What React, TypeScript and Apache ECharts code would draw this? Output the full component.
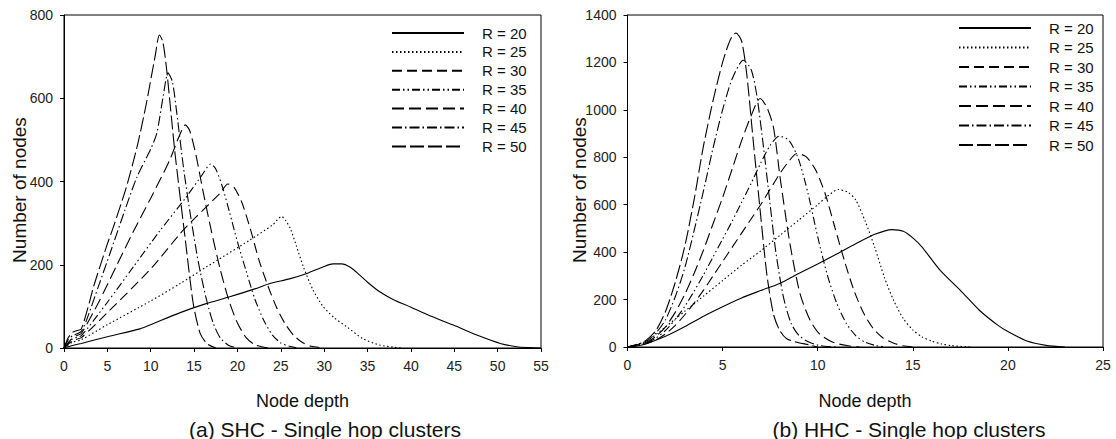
import React, { useEffect, useRef } from "react";
import * as echarts from "echarts";

// ---------- data: [node depth, number of nodes] ----------
const seriesNames = ["R = 20", "R = 25", "R = 30", "R = 35", "R = 40", "R = 45", "R = 50"];

// (a) SHC
const shcR20 = [[0,0],[1,6],[2,11],[5,27],[8.76,46],[10,56],[13.4,85],[16.3,106],[19.1,123],[22,142],[23.75,155],[26,166],[28,179],[30,196],[31,202],[32,202],[33,194],[34,177],[35,158],[36.4,135],[38,116],[40,98],[42,79],[44.9,55],[47.6,31],[50.3,11],[52.2,3],[53.5,1],[55,0]];
const shcR25 = [[0,0],[1,14],[2,20],[5,56],[10,113],[13.4,155],[16.45,195],[21.4,259],[24,295],[25.1,316],[25.6,305],[26.1,287],[26.8,245],[27.6,195],[28.7,140],[29.9,99],[31.2,72],[32.6,51],[34.5,22],[36.4,7],[38,2],[39,0]];
const shcR30 = [[0,0],[1,18],[2,25],[5,85],[10,190],[13.4,275],[15,310],[18,372],[18.9,394],[19.6,386],[20.5,350],[21.5,285],[22.5,210],[23.5,150],[24.5,98],[25.5,58],[26.5,30],[27.5,13],[28.5,4],[30,0]];
const shcR35 = [[0,0],[1,22],[2,30],[5,110],[8,195],[11,280],[14,360],[16,418],[16.9,442],[17.5,430],[18.3,385],[19.1,325],[20,255],[21,185],[22,118],[23,68],[24,32],[25,12],[26,4],[27,0]];
const shcR40 = [[0,0],[1,25],[1.5,30],[2,35],[4,110],[6,195],[8,280],[10,360],[12.2,452],[13.3,510],[14,536],[14.5,522],[15.2,465],[16,380],[17,280],[18,190],[19,115],[20,60],[21,25],[22,8],[23.5,0]];
const shcR45 = [[0,0],[0.5,20],[1,30],[1.5,34],[2,40],[2.6,67],[4,150],[5.3,227],[7,330],[8.4,410],[10,478],[10.7,516],[11.4,600],[12,661],[12.5,640],[13,565],[13.8,430],[14.5,330],[15.5,205],[16.5,110],[17.2,60],[18,25],[19,6],[20,0]];
const shcR50 = [[0,0],[0.5,25],[1,38],[1.5,42],[2,46],[3,115],[3.4,147],[5,250],[5.7,291],[7.2,387],[8.5,490],[9.5,588],[10.5,700],[11,752],[11.4,735],[11.84,668],[12.8,468],[13.95,267],[14.9,107],[15.7,35],[16.5,10],[17.5,0]];

// (b) HHC
const hhcR20 = [[0,0],[0.5,4],[1,14],[2,45],[3,85],[4,130],[5,170],[6,207],[7,238],[8,268],[9,310],[10,350],[11,392],[12,435],[13,475],[13.9,495],[14.5,488],[15,460],[15.5,420],[16.43,324],[17.5,239],[18.5,155],[19.5,90],[20,65],[21,25],[22,7],[23,0]];
const hhcR25 = [[0,0],[1,25],[2,85],[3,150],[4,215],[5,280],[6,345],[7,405],[8,470],[9,535],[10,600],[10.5,635],[11.1,664],[11.6,652],[12,620],[12.5,530],[13,420],[13.5,295],[14,195],[14.5,120],[15,72],[15.5,42],[16,25],[16.5,13],[17,6],[18,0]];
const hhcR30 = [[0,0],[1,15],[1.5,30],[2,55],[2.5,90],[3,135],[3.5,185],[4,240],[4.5,300],[5,360],[5.5,420],[6,480],[6.5,540],[7,600],[7.5,665],[8,730],[8.5,785],[8.9,816],[9.4,802],[9.9,745],[10.4,645],[10.9,505],[11.4,365],[11.9,240],[12.4,145],[12.9,80],[13.4,40],[14,16],[14.5,5],[15,0]];
const hhcR35 = [[0,0],[1,18],[1.5,38],[2,70],[2.5,115],[3,170],[3.5,235],[4,305],[4.5,380],[5,455],[5.5,530],[6,610],[6.5,690],[7,775],[7.5,850],[7.98,889],[8.5,870],[9,790],[9.5,645],[10,465],[10.5,305],[11,185],[11.5,100],[12,48],[12.5,20],[13,7],[13.6,0]];
const hhcR40 = [[0,0],[1,20],[1.5,45],[2,85],[2.5,145],[3,220],[3.5,310],[4,410],[4.5,520],[5,630],[5.5,750],[6,870],[6.5,975],[6.97,1048],[7.32,1012],[7.67,928],[8.02,717],[8.54,436],[9.07,225],[9.6,113],[10.1,55],[10.8,20],[11.6,5],[12.2,0]];
const hhcR45 = [[0,0],[1,25],[1.5,60],[2,115],[2.5,210],[3,330],[3.5,490],[4,660],[4.5,840],[5,1000],[5.5,1130],[6.09,1209],[6.5,1170],[6.8,1060],[7.14,850],[7.5,600],[7.8,400],[8.2,210],[8.6,100],[9,50],[9.5,22],[10,8],[10.5,2],[11,0]];
const hhcR50 = [[0,0],[0.5,8],[1,30],[1.5,70],[2,150],[2.5,270],[3,420],[3.5,620],[3.8,760],[4,850],[4.5,1040],[5,1200],[5.4,1295],[5.7,1324],[6,1290],[6.27,1150],[6.61,870],[6.97,580],[7.32,310],[7.67,140],[8,70],[8.37,35],[9,18],[9.5,10],[10,0]];

const shcData = [shcR20, shcR25, shcR30, shcR35, shcR40, shcR45, shcR50];
const hhcData = [hhcR20, hhcR25, hhcR30, hhcR35, hhcR40, hhcR45, hhcR50];

const shcXMax = 55;
const hhcXMax = 25;
const shcYMax = 800;
const hhcYMax = 1400;

const captions = ["(a) SHC - Single hop clusters", "(b) HHC - Single hop clusters"];
const xTitle = "Node depth";
const yTitle = "Number of nodes";

// ---------- styles ----------
const FONT = "'Liberation Sans', Arial, sans-serif";
const dashes: any[] = [
  "solid",
  [1.5, 2.5],
  [10, 5],
  [8, 3, 1.5, 3, 1.5, 3],
  [12, 5],
  [10, 3, 1.5, 3],
  [14, 4],
];

export default function App() {
  const ref = useRef<HTMLDivElement>(null);
  useEffect(() => {
    document.body.style.margin = "0";
    const chart = echarts.init(ref.current!, null, { renderer: "svg" });

    const axisCommon = {
      axisLine: { show: true, lineStyle: { color: "#000", width: 1 } },
      axisTick: { show: true, inside: false, length: 4, lineStyle: { color: "#000" } },
      splitLine: { show: false },
      axisLabel: { color: "#222", fontSize: 14, fontFamily: FONT, margin: 11, formatter: (v: number) => String(v) },
    };

    const mkSeries = (data: number[][][], idx: number) =>
      data.map((d, i) => ({
        type: "line",
        name: seriesNames[i],
        xAxisIndex: idx,
        yAxisIndex: idx,
        data: d,
        symbol: "none",
        showSymbol: false,
        smooth: 0.25,
        lineStyle: { color: "#000", width: 1.1, type: dashes[i] },
        itemStyle: { color: "#000" },
      }));

    const legendCommon = {
      orient: "vertical",
      padding: 0,
      itemWidth: 72,
      itemHeight: 14,
      data: seriesNames,
      itemStyle: { opacity: 0, color: "transparent", borderWidth: 0 },
      textStyle: { fontSize: 15, fontFamily: FONT, color: "#111", lineHeight: 14, padding: [0, 0, 0, 13] },
      selectedMode: false,
    };

    chart.setOption({
      animation: false,
      backgroundColor: "#fff",
      grid: [
        { left: 64, top: 15, width: 477, height: 333, show: true, borderColor: "#000", borderWidth: 1 },
        { left: 627.5, top: 15, width: 475.5, height: 332, show: true, borderColor: "#000", borderWidth: 1 },
      ],
      xAxis: [
        { ...axisCommon, type: "value", gridIndex: 0, min: 0, max: shcXMax, interval: 5 },
        { ...axisCommon, type: "value", gridIndex: 1, min: 0, max: hhcXMax, interval: 5 },
      ],
      yAxis: [
        { ...axisCommon, type: "value", gridIndex: 0, min: 0, max: shcYMax, interval: 200 },
        { ...axisCommon, type: "value", gridIndex: 1, min: 0, max: hhcYMax, interval: 200 },
      ],
      legend: [
        { ...legendCommon, left: 391, top: 25.5, itemGap: 3.9 },
        { ...legendCommon, left: 958, top: 20.5, itemGap: 4.5 },
      ],
      graphic: [
        { type: "text", x: 19, y: 190, rotation: Math.PI / 2, style: { text: yTitle, font: `19px ${FONT}`, fill: "#111", textAlign: "center", textVerticalAlign: "middle" } },
        { type: "text", x: 579, y: 190, rotation: Math.PI / 2, style: { text: yTitle, font: `19px ${FONT}`, fill: "#111", textAlign: "center", textVerticalAlign: "middle" } },
        { type: "text", x: 302.5, y: 401, style: { text: xTitle, font: `18px ${FONT}`, fill: "#111", textAlign: "center", textVerticalAlign: "middle" } },
        { type: "text", x: 865, y: 401, style: { text: xTitle, font: `18px ${FONT}`, fill: "#111", textAlign: "center", textVerticalAlign: "middle" } },
        { type: "text", x: 325, y: 429, style: { text: captions[0], font: `21px ${FONT}`, fill: "#111", textAlign: "center", textVerticalAlign: "middle" } },
        { type: "text", x: 909, y: 429, style: { text: captions[1], font: `21px ${FONT}`, fill: "#111", textAlign: "center", textVerticalAlign: "middle" } },
      ],
      series: [...mkSeries(shcData, 0), ...mkSeries(hhcData, 1)],
    });
    return () => chart.dispose();
  }, []);
  return <div ref={ref} style={{ width: 1116, height: 439 }} />;
}
